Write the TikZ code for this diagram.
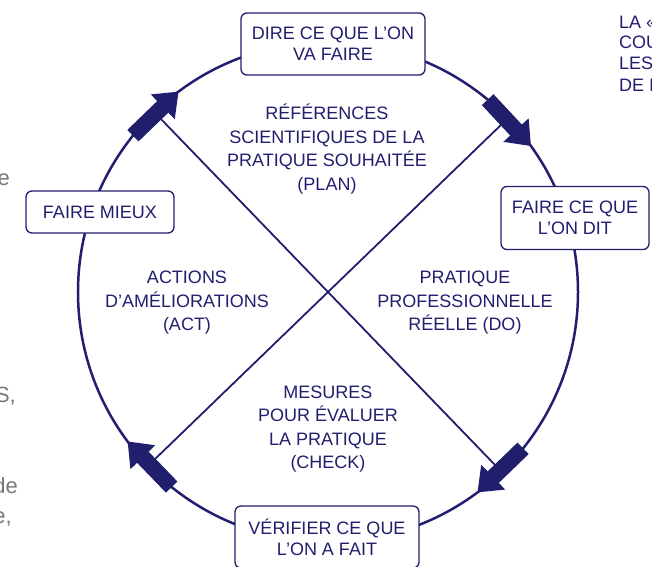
\documentclass[tikz,border=0pt]{standalone}
\usepackage{fontspec}
\setmainfont{Liberation Sans}
\usetikzlibrary{calc,arrows.meta}
\definecolor{marine}{RGB}{33,30,110}
\definecolor{grijs}{RGB}{120,120,120}
\NewDocumentCommand{\flechecycle}{O{7.3} m}{ % demi-ouverture, angle du milieu
    \draw[fleche] ($(M) + (#2+#1:250)$) -- ($(M) + (#2-#1:250)$);
}

\begin{document}
\begin{tikzpicture}[x=1pt,y=1pt,
    etape/.style={draw=marine,line width=1.3pt,rounded corners=6pt,fill=white,text=marine,align=center,font=\fontsize{18}{21}\selectfont},
    zone/.style={text=marine,align=center,font=\fontsize{18}{23.5}\selectfont},
    fleche/.style={marine,line width=16pt,-{Triangle[length=22pt,width=33pt]}},
    bord/.style={text=grijs,font=\fontsize{22}{26}\selectfont}]
    \useasboundingbox (-328,-274) rectangle (324,292);
    \clip (-328,-274) rectangle (324,292);
    \coordinate (M) at (0,0);
    \draw[marine,line width=2.5pt] (M) circle (250pt);
    % diagonales
    \coordinate (a) at ($(M) + (134:250)$);
    \coordinate (b) at ($(M) + (44:250)$);
    \coordinate (c) at ($(M) + (314:250)$);
    \coordinate (d) at ($(M) + (224:250)$);
    \draw[marine,line width=1.8pt] (a) -- (c) (b) -- (d);
    \flechecycle{134}
    \flechecycle{43}
    \flechecycle{314}
    \flechecycle{224}
    % etapes
    \node[etape,minimum width=184pt,minimum height=62pt] (dire) at (5,248) {DIRE CE QUE L’ON\\VA FAIRE};
    \node[etape,minimum width=148pt,minimum height=63pt] (faire) at (247,74) {FAIRE CE QUE\\L’ON DIT};
    \node[etape,minimum width=148pt,minimum height=42pt] (mieux) at (-228,80) {FAIRE MIEUX};
    \node[etape,minimum width=184pt,minimum height=62pt] (verifier) at (-1,-245) {VÉRIFIER CE QUE\\L’ON A FAIT};
    % zones
    \node[zone] (plan) at (-1,143) {RÉFÉRENCES\\SCIENTIFIQUES DE LA\\PRATIQUE SOUHAITÉE\\(PLAN)};
    \node[zone] (act) at (-141,-11) {ACTIONS\\D’AMÉLIORATIONS\\(ACT)};
    \node[zone] (do) at (137,-11) {PRATIQUE\\PROFESSIONNELLE\\RÉELLE (DO)};
    \node[zone] (check) at (0,-137) {MESURES\\POUR ÉVALUER\\LA PRATIQUE\\(CHECK)};
    % bords de page
    \foreach \t/\y in {LA «/264,COU/244,LES/223,DE I/201}
        \node[text=marine,anchor=base west,inner sep=0pt,font=\fontsize{18}{21}\selectfont] (haut\y) at (291,\y) {\t};
    \node[bord,anchor=base east,inner sep=0pt] (g1) at (-318,107) {e};
    \node[bord,anchor=base east,inner sep=0pt] (g2) at (-312,-110) {S,};
    \node[bord,anchor=base east,inner sep=0pt] (g3) at (-310,-201) {de};
    \node[bord,anchor=base east,inner sep=0pt] (g4) at (-316,-231) {e,};
\end{tikzpicture}
\end{document}
